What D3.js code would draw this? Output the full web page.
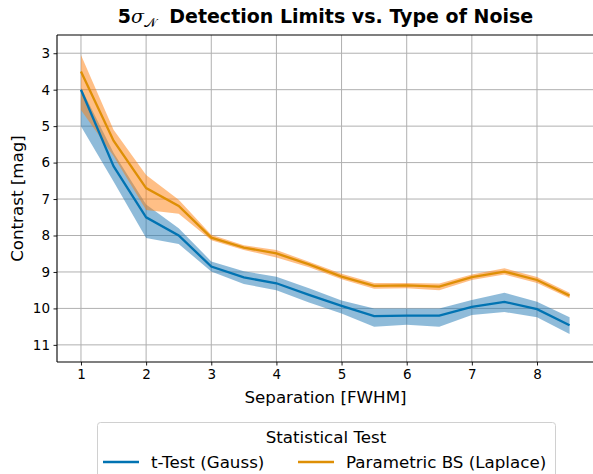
<!DOCTYPE html>
<html><head><meta charset="utf-8">
<script src="https://cdn.jsdelivr.net/npm/d3@7"></script>
<style>body{margin:0;background:#fff}svg{display:block;font-family:"DejaVu Sans",sans-serif}</style>
</head><body><svg id="c" width="593" height="474"></svg>
<script>
const separation = [1,1.5,2,2.5,3,3.5,4,4.5,5,5.5,6,6.5,7,7.5,8,8.5];
const gaussMean  = [4.0,6.1,7.5,8.0,8.85,9.15,9.31,9.63,9.93,10.21,10.2,10.2,9.96,9.82,10.02,10.46];
const gaussLow   = [3.95,5.73,7.15,7.8,8.71,8.98,9.13,9.45,9.78,10.0,10.0,10.0,9.77,9.57,9.82,10.24];
const gaussHigh  = [5.0,6.52,8.07,8.23,8.99,9.33,9.5,9.84,10.14,10.5,10.45,10.5,10.18,10.1,10.24,10.7];
const laplaceMean= [3.5,5.4,6.7,7.19,8.06,8.33,8.49,8.79,9.13,9.38,9.37,9.4,9.14,8.99,9.22,9.65];
const laplaceLow = [3.05,5.1,6.34,7.02,7.98,8.27,8.4,8.72,9.05,9.3,9.3,9.32,9.07,8.9,9.14,9.57];
const laplaceHigh= [4.56,5.82,7.3,7.4,8.13,8.4,8.6,8.87,9.2,9.46,9.45,9.5,9.22,9.07,9.3,9.72];
const xTicks = [1,2,3,4,5,6,7,8];
const yTicks = [3,4,5,6,7,8,9,10,11];
const legendLabels = ["t-Test (Gauss)","Parametric BS (Laplace)"];

const svg = d3.select("#c");
const L=57,R=594,T=35,B=362;
const x = d3.scaleLinear().domain([0.632,8.875]).range([L,R]);
const y = d3.scaleLinear().domain([2.5,11.47]).range([T,B]);

// grid
const g = svg.append("g");
g.selectAll(".gx").data(xTicks).enter().append("line")
 .attr("x1",d=>x(d)).attr("x2",d=>x(d)).attr("y1",T).attr("y2",B)
 .attr("stroke","#b0b0b0").attr("stroke-width",1);
g.selectAll(".gy").data(yTicks).enter().append("line")
 .attr("x1",L).attr("x2",R).attr("y1",d=>y(d)).attr("y2",d=>y(d))
 .attr("stroke","#b0b0b0").attr("stroke-width",1);

const series = [
 {m:gaussMean,lo:gaussLow,hi:gaussHigh,line:"#0173b2",fill:"#1f77b4"},
 {m:laplaceMean,lo:laplaceLow,hi:laplaceHigh,line:"#de8f05",fill:"#ff7f0e"}
];
svg.append("clipPath").attr("id","cp").append("rect").attr("x",L).attr("y",T).attr("width",R-L).attr("height",B-T);
const plot = svg.append("g").attr("clip-path","url(#cp)");
series.forEach(s=>{
  const area = d3.area().x((d,i)=>x(separation[i])).y0((d,i)=>y(s.lo[i])).y1((d,i)=>y(s.hi[i]));
  plot.append("path").attr("d",area(s.m)).attr("fill",s.fill).attr("fill-opacity",0.5);
});
series.forEach(s=>{
  const line = d3.line().x((d,i)=>x(separation[i])).y(d=>y(d));
  plot.append("path").attr("d",line(s.m)).attr("fill","none").attr("stroke",s.line).attr("stroke-width",2.3);
});

// axes
const xa = svg.append("g").attr("transform",`translate(0,${B})`)
 .call(d3.axisBottom(x).tickValues(xTicks).tickSize(3.5).tickPadding(3.5).tickFormat(d3.format("d")));
const ya = svg.append("g").attr("transform",`translate(${L},0)`)
 .call(d3.axisLeft(y).tickValues(yTicks).tickSize(3.5).tickPadding(3.5).tickFormat(d3.format("d")));
[xa,ya].forEach(a=>{
  a.select(".domain").remove();
  a.selectAll("text").attr("font-size",13.5).attr("fill","#000").attr("font-family","DejaVu Sans");
  a.selectAll("line").attr("stroke","#000").attr("stroke-width",0.9);
});
// spines
svg.append("line").attr("x1",L).attr("x2",L).attr("y1",T).attr("y2",B).attr("stroke","#000").attr("stroke-width",1.1);
svg.append("line").attr("x1",L).attr("x2",R).attr("y1",B).attr("y2",B).attr("stroke","#000").attr("stroke-width",1.1);
svg.append("line").attr("x1",L).attr("x2",R).attr("y1",T).attr("y2",T).attr("stroke","#000").attr("stroke-width",1.1);

// labels
svg.append("text").attr("x",(L+R)/2).attr("y",403).attr("text-anchor","middle").attr("font-size",16.7).text("Separation [FWHM]");
svg.append("text").attr("transform",`translate(23,${(T+B)/2}) rotate(-90)`).attr("text-anchor","middle").attr("font-size",16.7).text("Contrast [mag]");

// title
const t = svg.append("text").attr("x",(L+R)/2).attr("y",23).attr("text-anchor","middle").attr("font-size",19).attr("font-weight","bold");
t.append("tspan").text("5");
t.append("tspan").attr("font-style","italic").attr("font-weight","normal").attr("font-family","DejaVu Serif").text("σ");
t.append("tspan").attr("font-size",13).attr("dy",4).attr("font-weight","normal").text("𝒩");
t.append("tspan").attr("dy",-4).text("\u00a0 Detection Limits vs. Type of Noise");

// legend
const lg = svg.append("g");
lg.append("rect").attr("x",97.5).attr("y",422.5).attr("width",458).attr("height",70).attr("rx",3)
 .attr("fill","#fff").attr("stroke","#d0d0d0").attr("stroke-width",1);
lg.append("text").attr("x",326).attr("y",443).attr("text-anchor","middle").attr("font-size",16.7).text("Statistical Test");
const lx = [103,298];
legendLabels.forEach((lab,i)=>{
  lg.append("line").attr("x1",lx[i]).attr("x2",lx[i]+36).attr("y1",462).attr("y2",462).attr("stroke",series[i].line).attr("stroke-width",2.3);
  lg.append("text").attr("x",lx[i]+48).attr("y",468).attr("font-size",16.7).text(lab);
});
</script></body></html>
